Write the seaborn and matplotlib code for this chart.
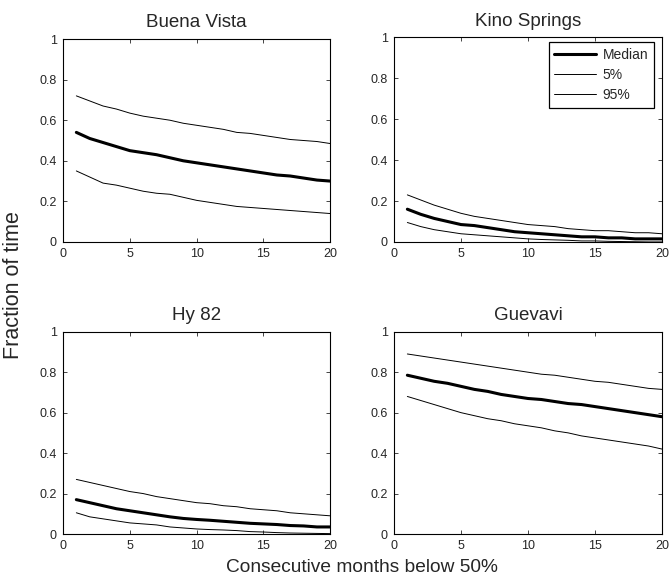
import numpy as np
import pandas as pd
import seaborn as sns
import matplotlib
matplotlib.use("Agg")
import matplotlib.pyplot as plt

months = list(range(1, 21))

bv_median = [0.54, 0.51, 0.49, 0.47, 0.45, 0.44, 0.43, 0.415, 0.40, 0.39, 0.38, 0.37, 0.36, 0.35, 0.34, 0.33, 0.325, 0.315, 0.305, 0.30]
bv_p5 = [0.35, 0.32, 0.29, 0.28, 0.265, 0.25, 0.24, 0.235, 0.22, 0.205, 0.195, 0.185, 0.175, 0.17, 0.165, 0.16, 0.155, 0.15, 0.145, 0.14]
bv_p95 = [0.72, 0.695, 0.67, 0.655, 0.635, 0.62, 0.61, 0.60, 0.585, 0.575, 0.565, 0.555, 0.54, 0.535, 0.525, 0.515, 0.505, 0.50, 0.495, 0.485]

ks_median = [0.16, 0.135, 0.115, 0.10, 0.085, 0.08, 0.07, 0.06, 0.05, 0.045, 0.04, 0.035, 0.03, 0.025, 0.025, 0.02, 0.02, 0.015, 0.015, 0.015]
ks_p5 = [0.095, 0.075, 0.06, 0.05, 0.04, 0.035, 0.03, 0.025, 0.02, 0.015, 0.012, 0.01, 0.008, 0.005, 0.005, 0.003, 0.002, 0.001, 0.0, 0.0]
ks_p95 = [0.23, 0.205, 0.18, 0.16, 0.14, 0.125, 0.115, 0.105, 0.095, 0.085, 0.08, 0.075, 0.065, 0.06, 0.055, 0.055, 0.05, 0.045, 0.045, 0.04]

hy_median = [0.17, 0.155, 0.14, 0.125, 0.115, 0.105, 0.095, 0.085, 0.077, 0.072, 0.068, 0.063, 0.058, 0.053, 0.05, 0.047, 0.042, 0.04, 0.035, 0.035]
hy_p5 = [0.105, 0.085, 0.075, 0.065, 0.055, 0.05, 0.045, 0.035, 0.03, 0.025, 0.022, 0.02, 0.017, 0.012, 0.01, 0.007, 0.005, 0.004, 0.003, 0.002]
hy_p95 = [0.27, 0.255, 0.24, 0.225, 0.21, 0.20, 0.185, 0.175, 0.165, 0.155, 0.15, 0.14, 0.135, 0.125, 0.12, 0.115, 0.105, 0.10, 0.095, 0.09]

gu_median = [0.785, 0.77, 0.755, 0.745, 0.73, 0.715, 0.705, 0.69, 0.68, 0.67, 0.665, 0.655, 0.645, 0.64, 0.63, 0.62, 0.61, 0.60, 0.59, 0.58]
gu_p5 = [0.68, 0.66, 0.64, 0.62, 0.60, 0.585, 0.57, 0.56, 0.545, 0.535, 0.525, 0.51, 0.50, 0.485, 0.475, 0.465, 0.455, 0.445, 0.435, 0.42]
gu_p95 = [0.89, 0.88, 0.87, 0.86, 0.85, 0.84, 0.83, 0.82, 0.81, 0.80, 0.79, 0.785, 0.775, 0.765, 0.755, 0.75, 0.74, 0.73, 0.72, 0.715]

sites = ["Buena Vista", "Kino Springs", "Hy 82", "Guevavi"]
series_names = ["Median", "5%", "95%"]
site_data = {
    "Buena Vista": [bv_median, bv_p5, bv_p95],
    "Kino Springs": [ks_median, ks_p5, ks_p95],
    "Hy 82": [hy_median, hy_p5, hy_p95],
    "Guevavi": [gu_median, gu_p5, gu_p95],
}

rows = []
for site in sites:
    for name, vals in zip(series_names, site_data[site]):
        for m, v in zip(months, vals):
            rows.append({"site": site, "series": name, "month": m, "value": v})
df = pd.DataFrame(rows)

sns.set_style("ticks")
plt.rcParams["font.family"] = ["Liberation Sans", "DejaVu Sans"]

fig = plt.figure(figsize=(6.7, 5.83), dpi=100)
positions = [
    [0.094, 0.585, 0.399, 0.348],
    [0.588, 0.585, 0.400, 0.351],
    [0.094, 0.084, 0.399, 0.347],
    [0.588, 0.084, 0.400, 0.347],
]

for i, site in enumerate(sites):
    ax = fig.add_axes(positions[i])
    sub = df[df["site"] == site]
    sns.lineplot(data=sub, x="month", y="value", hue="series", size="series",
                 hue_order=series_names, size_order=series_names,
                 palette={"Median": "black", "5%": "black", "95%": "black"},
                 sizes={"Median": 2.2, "5%": 0.7, "95%": 0.7},
                 ax=ax, legend=(i == 1))
    ax.set_xlim(0, 20)
    ax.set_ylim(0, 1)
    ax.set_xticks([0, 5, 10, 15, 20])
    ax.set_yticks([0, 0.2, 0.4, 0.6, 0.8, 1])
    ax.set_yticklabels(["0", "0.2", "0.4", "0.6", "0.8", "1"])
    ax.set_xlabel("")
    ax.set_ylabel("")
    ax.set_title(site, fontsize=13.5, pad=8.5)
    ax.tick_params(direction="in", length=3, width=0.6, labelsize=9,
                   top=True, right=True, pad=4.5)
    for sp in ax.spines.values():
        sp.set_visible(True)
        sp.set_linewidth(0.8)
        sp.set_color("black")
    if i == 1:
        handles, labels = ax.get_legend_handles_labels()
        leg = ax.legend(handles, labels, loc="upper right",
                        bbox_to_anchor=(1 - 8 / 268, 1 - 5 / 205),
                        borderaxespad=0, fontsize=10,
                        frameon=True, fancybox=False, edgecolor="black",
                        framealpha=1, handlelength=3.0, borderpad=0.4,
                        labelspacing=0.45, handletextpad=0.5)
        leg.get_frame().set_linewidth(0.9)

fig.text(0.02, 0.511, "Fraction of time", rotation=90, ha="center", va="center", fontsize=15.5)
fig.text(0.54, 0.027, "Consecutive months below 50%", ha="center", va="center", fontsize=13.8)

fig.savefig("out.png", dpi=100)
